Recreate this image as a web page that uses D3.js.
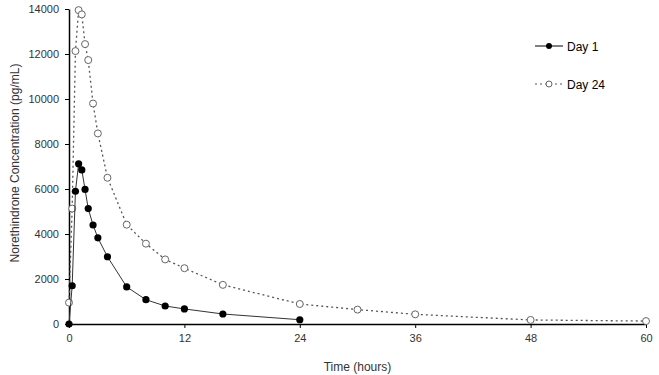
<!DOCTYPE html>
<html>
<head>
<meta charset="utf-8">
<script src="https://cdn.jsdelivr.net/npm/d3@7"></script>
<style>
  body { margin: 0; background: #fff; }
  text { font-family: "Liberation Sans", Arial, sans-serif; }
</style>
</head>
<body>
<div id="chart"></div>
<script>
// data
var day1Hours = [0, 0.33, 0.67, 1, 1.33, 1.67, 2, 2.5, 3, 4, 6, 8, 10, 12, 16, 24];
var day1Conc  = [0, 1700, 5900, 7120, 6850, 5980, 5130, 4400, 3830, 2990, 1650, 1080, 800, 670, 445, 190];

var day24Hours = [0, 0.33, 0.67, 1, 1.33, 1.67, 2, 2.5, 3, 4, 6, 8, 10, 12, 16, 24, 30, 36, 48, 60];
var day24Conc  = [950, 5130, 12130, 13950, 13760, 12440, 11730, 9800, 8470, 6500, 4415, 3570, 2870, 2480, 1740, 890, 640, 430, 180, 130];

var xTicks = [0, 12, 24, 36, 48, 60];
var yTicks = [0, 2000, 4000, 6000, 8000, 10000, 12000, 14000];

var margin = {top: 9, right: 13, bottom: 51, left: 69},
    width = 659 - margin.left - margin.right,
    height = 375 - margin.top - margin.bottom;

var svg = d3.select("#chart")
  .append("svg")
    .attr("width", 659)
    .attr("height", 375)
  .append("g")
    .attr("transform", "translate(" + margin.left + "," + margin.top + ")");

var x = d3.scaleLinear().domain([0, 60]).range([0, width]);
var y = d3.scaleLinear().domain([0, 14000]).range([height, 0]);

// axes
var xAxis = svg.append("g")
    .attr("transform", "translate(0," + height + ")")
    .call(d3.axisBottom(x).tickValues(xTicks).tickSize(4).tickPadding(6).tickSizeOuter(0));
var yAxis = svg.append("g")
    .call(d3.axisLeft(y).tickValues(yTicks).tickSize(4).tickPadding(6).tickSizeOuter(0).tickFormat(d3.format("d")));

[xAxis, yAxis].forEach(function (a) {
  a.select(".domain").attr("stroke", "#000").attr("stroke-width", 1.5);
  a.selectAll(".tick line").attr("stroke", "#000");
  a.selectAll(".tick text").attr("fill", "#333").style("font-size", "11px");
});

svg.append("text")
    .attr("x", width / 2)
    .attr("y", height + 47)
    .attr("text-anchor", "middle")
    .attr("fill", "#333")
    .style("font-size", "12px")
    .text("Time (hours)");

svg.append("text")
    .attr("transform", "rotate(-90)")
    .attr("x", -154)
    .attr("y", -50)
    .attr("text-anchor", "middle")
    .attr("fill", "#333")
    .style("font-size", "12px")
    .text("Norethindrone Concentration (pg/mL)");

var day1 = day1Hours.map(function (h, i) { return {h: h, c: day1Conc[i]}; });
var day24 = day24Hours.map(function (h, i) { return {h: h, c: day24Conc[i]}; });

var line = d3.line()
    .x(function (d) { return x(d.h); })
    .y(function (d) { return y(d.c); });

// Day 24: dotted
svg.append("path")
    .datum(day24)
    .attr("fill", "none")
    .attr("stroke", "#555")
    .attr("stroke-width", 1.3)
    .attr("stroke-dasharray", "2,3")
    .attr("d", line);

svg.selectAll(".d24")
    .data(day24)
    .enter().append("circle")
    .attr("class", "d24")
    .attr("cx", function (d) { return x(d.h); })
    .attr("cy", function (d) { return y(d.c); })
    .attr("r", 3.5)
    .attr("fill", "#fff")
    .attr("stroke", "#666")
    .attr("stroke-width", 1);

// Day 1: solid
svg.append("path")
    .datum(day1)
    .attr("fill", "none")
    .attr("stroke", "#333")
    .attr("stroke-width", 1)
    .attr("d", line);

svg.selectAll(".d1")
    .data(day1)
    .enter().append("circle")
    .attr("class", "d1")
    .attr("cx", function (d) { return x(d.h); })
    .attr("cy", function (d) { return y(d.c); })
    .attr("r", 3.6)
    .attr("fill", "#000");

// legend
var legend = svg.append("g").attr("transform", "translate(" + (535 - margin.left) + "," + (46 - margin.top) + ")");
legend.append("line").attr("x1", 0).attr("x2", 28).attr("y1", 0).attr("y2", 0)
    .attr("stroke", "#000").attr("stroke-width", 1);
legend.append("circle").attr("cx", 14).attr("cy", 0).attr("r", 3).attr("fill", "#000");
legend.append("text").attr("x", 32).attr("y", 4.5).attr("fill", "#000")
    .style("font-size", "12px").text("Day 1");

var leg2 = svg.append("g").attr("transform", "translate(" + (535 - margin.left) + "," + (84 - margin.top) + ")");
leg2.append("line").attr("x1", 0).attr("x2", 28).attr("y1", 0).attr("y2", 0)
    .attr("stroke", "#555").attr("stroke-width", 1.2).attr("stroke-dasharray", "2,3");
leg2.append("circle").attr("cx", 14).attr("cy", 0).attr("r", 3)
    .attr("fill", "#fff").attr("stroke", "#666");
leg2.append("text").attr("x", 32).attr("y", 4.5).attr("fill", "#000")
    .style("font-size", "12px").text("Day 24");
</script>
</body>
</html>
